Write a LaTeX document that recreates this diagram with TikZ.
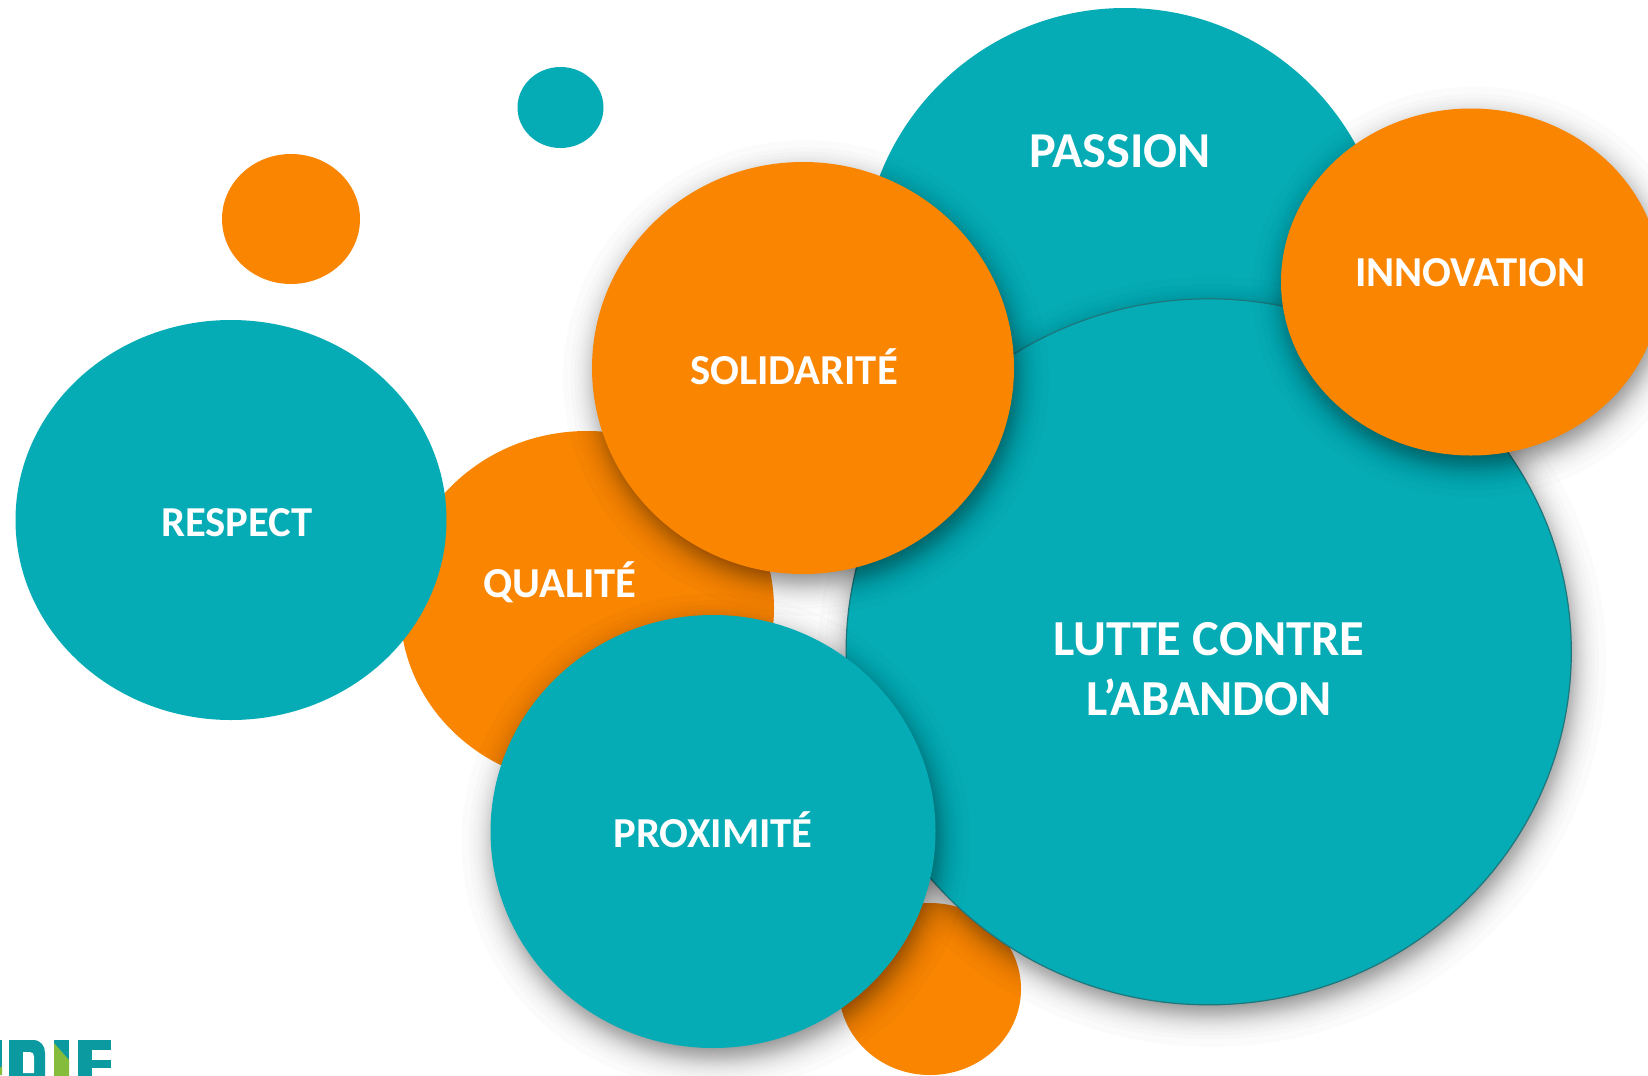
\documentclass[tikz,border=0pt]{standalone}
\usepackage{fontspec}
\setmainfont{Carlito}
\usetikzlibrary{shapes.geometric}
\definecolor{tealblob}{HTML}{05ACB5}
\definecolor{orangeblob}{HTML}{F98500}
\definecolor{tealedge}{HTML}{1E777C}
\definecolor{logoteal}{HTML}{0B9AA0}
\definecolor{logogreen}{HTML}{86BC3C}
\newcommand{\softshadow}[4]{%
  \foreach \t in {1,...,44}{%
    \pgfmathsetmacro{\e}{10*ln((\t/45)/(1-\t/45))-6}
    \fill[black,fill opacity=0.017] (#1+3,#2+10) ellipse [x radius=#3+\e, y radius=#4+\e];
  }}
\tikzset{
  tealb/.style={fill=tealblob},
  orangeb/.style={fill=orangeblob},
  label/.style={text=white,inner sep=0pt,align=center},
  smalllabel/.style={label,font=\bfseries\fontsize{32}{32}\selectfont}
}
\newcommand{\blobnode}[6]{%
  \node[ellipse,inner sep=0pt,outer sep=0pt,#1,minimum width=#5*1.5pt,minimum height=#6*1.5pt] (#2) at (#3,#4) {};}
\begin{document}
\begin{tikzpicture}[x=0.75pt,y=-0.75pt]
\useasboundingbox (0,0) rectangle (1648,1075);
\clip (0,0) rectangle (1648,1075);
\fill[white] (0,0) rectangle (1648,1075);
% logo fragment
\fill[logoteal] (0,1040) -- (2,1040) -- (2,1072) -- (0,1072) -- cycle;
\fill[logogreen] (0,1068) -- (2,1066) -- (2,1075) -- (0,1075) -- cycle;
\fill[logoteal] (9,1040) -- (33,1040) .. controls (41,1040) and (45,1046) .. (45,1053) -- (45,1085) -- (9,1085) -- cycle;
\fill[white] (23,1052) -- (30,1052) .. controls (33,1052) and (34,1054) .. (34,1057) -- (34,1073) -- (23,1073) -- cycle;
\fill[logoteal] (54,1040) rectangle (69,1085);
\fill[logogreen] (54,1043) -- (69,1060) -- (69,1085) -- (54,1085) -- cycle;
\fill[logoteal] (78,1040) rectangle (111,1085);
\fill[white] (92,1050) rectangle (111,1060);
\fill[white] (92,1068) rectangle (111,1085);
% small blobs
\blobnode{orangeb}{smallorange}{291}{219}{69}{65}
\blobnode{tealb}{smallteal}{560.5}{107.5}{43}{40.5}
% back layer
\blobnode{tealb}{passion}{1125}{271}{263}{263}
\blobnode{orangeb}{qualite}{587}{608}{187}{177}
\blobnode{tealb}{respect}{231}{520}{215.5}{200}
\blobnode{orangeb}{bottomorange}{930}{989}{91}{86}
% main layer
\softshadow{1208.7}{651.8}{362.6}{353}
\node[ellipse,inner sep=0pt,outer sep=0pt,fill=tealblob,draw=tealedge,line width=0.9pt,minimum width=362.6*1.5pt,minimum height=353*1.5pt] (lutte) at (1208.7,651.8) {};
\softshadow{803}{368}{211}{206}
\blobnode{orangeb}{solidarite}{803}{368}{211}{206}
\softshadow{713}{831.5}{222.5}{216.5}
\blobnode{tealb}{proximite}{713}{831.5}{222.5}{216.5}
\softshadow{1471}{282}{190}{173.5}
\blobnode{orangeb}{innovation}{1471}{282}{190}{173.5}
% labels
\node[label,font=\bfseries\fontsize{37.7}{37.7}\selectfont] (tpassion) at (1120,151) {PASSION};
\node[smalllabel] (tinnovation) at (1470.5,272.5) {INNOVATION};
\node[smalllabel] (tsolidarite) at (794,367) {SOLIDARITÉ};
\node[smalllabel] (tqualite) at (560,582) {QUALITÉ};
\node[smalllabel] (trespect) at (237,523) {RESPECT};
\node[smalllabel] (tproximite) at (713,830) {PROXIMITÉ};
\node[label,font=\bfseries\fontsize{37.8}{45}\selectfont] (tlutte) at (1209,669) {LUTTE CONTRE\\L’ABANDON};
\end{tikzpicture}
\end{document}
